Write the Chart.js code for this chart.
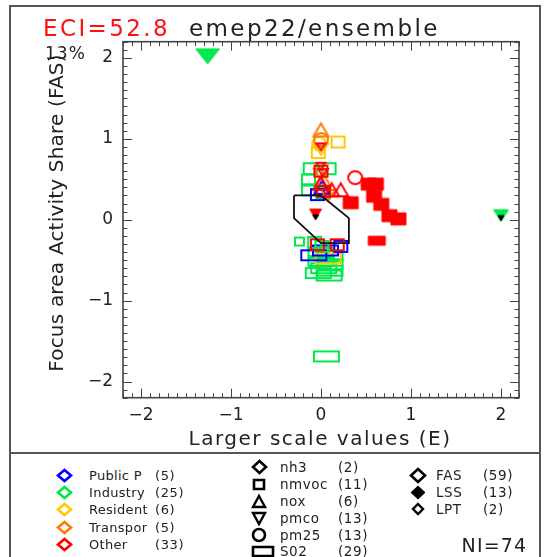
<!DOCTYPE html>
<html><head><meta charset="utf-8">
<script src="https://cdn.jsdelivr.net/npm/chart.js@4.4.0/dist/chart.umd.min.js"></script>
<style>
html,body{margin:0;padding:0;background:#fff;}
body{width:544px;height:557px;position:relative;overflow:hidden;font-family:"DejaVu Sans",sans-serif;color:#222;}
#wrap{position:absolute;left:0;top:0;width:544px;height:452px;}
.t{position:absolute;white-space:nowrap;line-height:1;}
.ln{position:absolute;background:#555;}
.sym{position:absolute;}
</style></head><body>
<div class="ln" style="left:9px;top:5px;width:2px;height:560px;"></div>
<div class="ln" style="left:9px;top:5px;width:532px;height:2px;"></div>
<div class="ln" style="left:539px;top:5px;width:2px;height:560px;"></div>
<div class="ln" style="left:9px;top:452px;width:532px;height:2px;"></div>
<div style="position:absolute;left:-12px;top:-3px;width:24px;height:24px;border-left:2px solid #aaa;border-top:2px solid #aaa;border-top-left-radius:14px;"></div>
<div id="wrap"><canvas id="c" width="544" height="452"></canvas></div>
<div id="texts"></div>
<script>
// ---------- data ----------
const xTicks = [-2, -1, 0, 1, 2];
const yTicks = [-2, -1, 0, 1, 2];
const xRange = [-2.2, 2.2];
const yRange = [-2.2, 2.2];

// Public P (blue)
const publicTri = [[0.01, 0.40]];
const publicSq = [[-0.04, 0.31], [0.22, -0.33]];
const publicSO2 = [[-0.08, -0.44], [0.05, -0.38]];
// Industry (green)
const industrySq = [[-0.12, 0.63], [0.09, 0.63], [-0.14, 0.49], [-0.14, 0.37], [-0.07, -0.28], [0.01, -0.33], [0.02, 0.33]];
const industrySmallSq = [[-0.24, -0.27]];
const industrySO2 = [[0.0, -0.41], [0.10, -0.45], [0.0, -0.51], [0.10, -0.55], [0.03, -0.60], [0.10, -0.63], [0.09, -0.69], [-0.03, -0.66], [0.06, -1.69]];
const industryTriDownBig = [[-1.26, 2.02]];
const industryTriDownSmall = [[2.0, 0.05]];
// Resident (yellow)
const residentCircle = [[-0.02, 0.94]];
const residentSq = [[0.19, 0.96], [-0.03, 0.83]];
const residentTriDown = [[0.0, 0.87]];
const residentSO2 = [[0.08, -0.48]];
// Transpor (orange)
const transTri = [[0.0, 1.11], [0.02, 0.50]];
const transCircle = [[0.0, 0.99]];
const transTriDown = [[0.0, 0.56], [0.08, 0.30]];
// Other (red)
const otherTriDown = [[0.0, 0.90], [0.0, 0.66], [0.02, 0.58]];
const otherTri = [[0.12, 0.37], [0.22, 0.37], [0.0, 0.45]];
const otherCircle = [[0.38, 0.52]];
const otherSq = [[-0.04, -0.31], [0.18, -0.31], [0.0, 0.60], [0.03, 0.35]];
const otherSqFill = [[0.33, 0.21], [0.53, 0.44], [0.61, 0.44], [0.59, 0.29], [0.67, 0.19], [0.76, 0.05], [0.86, 0.01]];
const otherSO2Fill = [[0.62, -0.26]];
const otherTriDownFill = [[-0.06, 0.07]];
const blackTriDownFill = [[-0.06, 0.03], [2.0, 0.02]];
// hull polygon
const hullX = [-0.30, 0.0, 0.31, 0.31, 0.0, -0.30, -0.30];
const hullY = [0.30, 0.30, 0.02, -0.29, -0.29, 0.02, 0.30];

// legend content
const sectorNames = ['Public P', 'Industry', 'Resident', 'Transpor', 'Other'];
const sectorCounts = ['(5)', '(25)', '(6)', '(5)', '(33)'];
const pollNames = ['nh3', 'nmvoc', 'nox', 'pmco', 'pm25', 'S02'];
const pollCounts = ['(2)', '(11)', '(6)', '(13)', '(13)', '(29)'];
const typeNames = ['FAS', 'LSS', 'LPT'];
const typeCounts = ['(59)', '(13)', '(2)'];

// ---------- styles ----------
const C = {blue:'#0000ff', green:'#00e84c', yellow:'#ffc800', orange:'#ff7a00', red:'#ff0000', black:'#000000'};
const sectorColors = [C.blue, C.green, C.yellow, C.orange, C.red];

function mk(shape, w, h, color, filled, lw) {
  const pad = Math.ceil(lw) + 1;
  const c = document.createElement('canvas');
  c.width = Math.round(w + 2 * pad); c.height = Math.round(h + 2 * pad);
  const g = c.getContext('2d');
  const cx = c.width / 2, cy = c.height / 2;
  g.beginPath();
  if (shape === 'sq') g.rect(cx - w / 2, cy - h / 2, w, h);
  else if (shape === 'tri') { g.moveTo(cx, cy - h / 2); g.lineTo(cx + w / 2, cy + h / 2); g.lineTo(cx - w / 2, cy + h / 2); g.closePath(); }
  else if (shape === 'tridown') { g.moveTo(cx - w / 2, cy - h / 2); g.lineTo(cx + w / 2, cy - h / 2); g.lineTo(cx, cy + h / 2); g.closePath(); }
  else if (shape === 'circle') g.ellipse(cx, cy, w / 2, h / 2, 0, 0, Math.PI * 2);
  else if (shape === 'diamond') { g.moveTo(cx, cy - h / 2); g.lineTo(cx + w / 2, cy); g.lineTo(cx, cy + h / 2); g.lineTo(cx - w / 2, cy); g.closePath(); }
  if (filled) { g.fillStyle = color; g.fill(); }
  if (lw > 0) { g.strokeStyle = color; g.lineWidth = lw; g.lineJoin = 'miter'; g.stroke(); }
  return c;
}
const S = {
  sq: (c) => mk('sq', 13, 11, c, false, 2),
  smallSq: (c) => mk('sq', 9, 8, c, false, 2),
  tri: (c) => mk('tri', 15, 13, c, false, 2),
  tridown: (c) => mk('tridown', 14, 11, c, false, 2),
  circle: (c) => mk('circle', 14, 13, c, false, 2),
  so2: (c) => mk('sq', 25, 10, c, false, 2),
  sqFill: (c) => mk('sq', 15, 12, c, true, 1),
  so2Fill: (c) => mk('sq', 17, 9, c, true, 1),
  tridownFill: (c) => mk('tridown', 12, 10, c, true, 1),
};

function ds(label, pts, style) {
  return {label, data: pts.map(p => ({x: p[0], y: p[1]})), pointStyle: style,
    pointRadius: 6, pointHoverRadius: 6, showLine: false};
}
// listed bottom -> top
const layers = [
  ds('Industry SO2', industrySO2, S.so2(C.green)),
  ds('Resident SO2', residentSO2, S.so2(C.yellow)),
  ds('Public SO2', publicSO2, S.so2(C.blue)),
  ds('Industry nmvoc', industrySq, S.sq(C.green)),
  ds('Industry nmvoc small', industrySmallSq, S.smallSq(C.green)),
  ds('Public nmvoc', publicSq, S.sq(C.blue)),
  ds('Public nox', publicTri, S.tri(C.blue)),
  ds('Resident pm25', residentCircle, S.circle(C.yellow)),
  ds('Resident nmvoc', residentSq, S.sq(C.yellow)),
  ds('Resident pmco', residentTriDown, S.tridown(C.yellow)),
  ds('Transpor nox', transTri, S.tri(C.orange)),
  ds('Transpor pm25', transCircle, S.circle(C.orange)),
  ds('Transpor pmco', transTriDown, S.tridown(C.orange)),
  ds('Other nmvoc', otherSq, S.sq(C.red)),
  ds('Other nox', otherTri, S.tri(C.red)),
  ds('Other pmco', otherTriDown, mk('tridown', 9, 7, C.red, false, 2)),
  ds('Other pm25', otherCircle, S.circle(C.red)),
  ds('Other nmvoc LSS', otherSqFill, S.sqFill(C.red)),
  ds('Other SO2 LSS', otherSO2Fill, S.so2Fill(C.red)),
  ds('Other pmco LSS', otherTriDownFill, S.tridownFill(C.red)),
  {label: 'hull', data: hullX.map((v, i) => ({x: v, y: hullY[i]})), showLine: true,
   borderColor: '#111', borderWidth: 1.8, pointRadius: 0, pointHoverRadius: 0, fill: false, tension: 0},
  ds('Industry pmco LPT', industryTriDownBig, mk('tridown', 24, 15, C.green, true, 1)),
  ds('Industry pmco LPT small', industryTriDownSmall, mk('tridown', 15, 12, C.green, true, 1)),
  ds('black', blackTriDownFill, mk('tridown', 6, 5, C.black, true, 1)),
];
const datasets = layers.slice().reverse();

const fmt = v => (v < 0 ? '\u2212' + Math.abs(v) : String(v));

const framePlugin = {
  id: 'frame',
  afterDraw(chart) {
    const {ctx, chartArea: a, scales: {x, y}} = chart;
    ctx.save();
    ctx.strokeStyle = '#444';
    ctx.lineWidth = 1;
    ctx.beginPath();
    for (let i = -22; i <= 22; i++) {
      const v = i / 10;
      const L = (i % 10 === 0) ? 9 : 4.5;
      const px = Math.round(x.getPixelForValue(v)) + 0.5;
      ctx.moveTo(px, a.bottom); ctx.lineTo(px, a.bottom - L);
      ctx.moveTo(px, a.top); ctx.lineTo(px, a.top + L);
      const py = Math.round(y.getPixelForValue(v)) + 0.5;
      ctx.moveTo(a.left, py); ctx.lineTo(a.left + L, py);
      ctx.moveTo(a.right, py); ctx.lineTo(a.right - L, py);
    }
    ctx.stroke();
    ctx.lineWidth = 1.6;
    ctx.strokeRect(a.left, a.top, a.right - a.left, a.bottom - a.top);
    ctx.restore();
  }
};

new Chart(document.getElementById('c'), {
  type: 'scatter',
  data: {datasets},
  options: {
    responsive: false, animation: false, devicePixelRatio: 1,
    layout: {padding: {left: 0, right: 25, top: 41.7, bottom: 0}},
    plugins: {legend: {display: false}, tooltip: {enabled: false}, title: {display: false}},
    scales: {
      x: {
        type: 'linear', min: xRange[0], max: xRange[1],
        afterBuildTicks: s => { s.ticks = xTicks.map(v => ({value: v})); },
        afterFit: s => { s.height = 54.3; },
        grid: {display: false, drawTicks: false}, border: {display: false},
        ticks: {autoSkip: false, maxRotation: 0, padding: 8, color: '#222', font: {family: 'DejaVu Sans', size: 17}, callback: fmt}
      },
      y: {
        type: 'linear', min: yRange[0], max: yRange[1],
        afterBuildTicks: s => { s.ticks = yTicks.map(v => ({value: v})); },
        afterFit: s => { s.width = 123; },
        grid: {display: false, drawTicks: false}, border: {display: false},
        ticks: {autoSkip: false, padding: 10, color: '#222', font: {family: 'DejaVu Sans', size: 17}, callback: fmt}
      }
    }
  },
  plugins: [framePlugin]
});

// ---------- HTML text ----------
const T = document.getElementById('texts');
function txt(s, x, cy, size, color, ls, extra) {
  const d = document.createElement('div');
  d.className = 't';
  d.textContent = s;
  d.style.left = x + 'px';
  d.style.top = (cy - 0.48 * size) + 'px';
  d.style.fontSize = size + 'px';
  d.style.color = color || '#222';
  d.style.letterSpacing = (ls || 0) + 'px';
  if (extra) Object.assign(d.style, extra);
  T.appendChild(d);
  return d;
}
function sym(canvas, cx, cy) {
  canvas.className = 'sym';
  canvas.style.left = (cx - canvas.width / 2) + 'px';
  canvas.style.top = (cy - canvas.height / 2) + 'px';
  T.appendChild(canvas);
}
txt('ECI=52.8', 43, 27.8, 23, '#ff1010', 2.4);
txt('emep22/ensemble', 189, 27.8, 23, '#222', 2.4);
txt('13%', 45, 53.5, 17, '#222', 1);
// axis titles
txt('Larger scale values (E)', 320, 437.6, 20, '#222', 1.5, {transform: 'translateX(-50%)'});
const yt = document.createElement('div');
yt.className = 't';
yt.textContent = 'Focus area Activity Share (FAS)';
Object.assign(yt.style, {left: '55.6px', top: '213px', fontSize: '20px', lineHeight: '20px', letterSpacing: '0.2px',
  transform: 'translate(-50%,-50%) rotate(-90deg)'});
T.appendChild(yt);

// legend column 1
sectorNames.forEach((n, i) => {
  const cy = 475 + i * 17.35;
  sym(mk('diamond', 13, 11, sectorColors[i], false, 2.6), 64, cy);
  txt(n, 89, cy, 13, '#222', 0.3);
  txt(sectorCounts[i], 155, cy, 13, '#222', 0.6);
});
// legend column 2
const pollSyms = [
  mk('diamond', 13, 12, C.black, false, 2.6),
  mk('sq', 10, 9, C.black, false, 2.6),
  mk('tri', 12, 11, C.black, false, 2.4),
  mk('tridown', 12, 11, C.black, false, 2.4),
  mk('circle', 12, 12, C.black, false, 2.6),
  mk('sq', 20, 9, C.black, false, 2.6),
];
pollNames.forEach((n, i) => {
  const cy = 467.4 + i * 16.9;
  sym(pollSyms[i], i === 5 ? 263 : 259, cy);
  txt(n, 280, cy, 13.5, '#222', 0.5);
  txt(pollCounts[i], 338, cy, 13.5, '#222', 0.6);
});
// legend column 3
const typeSyms = [
  mk('diamond', 14, 13, C.black, false, 2.6),
  mk('diamond', 14, 13, C.black, true, 1),
  mk('diamond', 10, 10, C.black, false, 2.4),
];
typeNames.forEach((n, i) => {
  const cy = 475 + i * 17.2;
  sym(typeSyms[i], 417.5, cy);
  txt(n, 436, cy, 13.5, '#222', 0.6);
  txt(typeCounts[i], 483, cy, 13.5, '#222', 0.6);
});
txt('NI=74', 461.5, 545.5, 19, '#222', 1.2);
</script>
</body></html>
